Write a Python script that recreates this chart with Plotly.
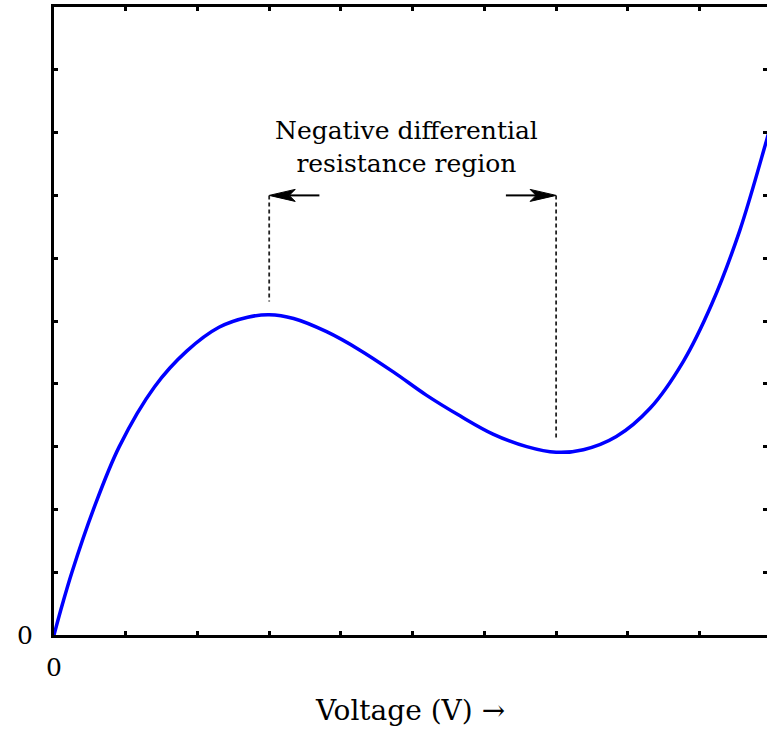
import plotly.graph_objects as go

# I-V characteristic of a tunnel diode (N-shaped curve)
voltage = [0.0, 0.12, 0.25, 0.55, 0.91, 1.40, 1.85, 2.30, 2.70, 3.0,
           3.34, 3.80, 4.26, 4.73, 5.19, 5.66, 6.12, 6.59, 7.0,
           7.38, 7.84, 8.31, 8.77, 9.17, 9.56, 9.93, 10.0]
current = [0.0, 0.50, 1.00, 2.00, 3.00, 3.95, 4.52, 4.90, 5.06, 5.10,
           5.04, 4.83, 4.54, 4.19, 3.82, 3.49, 3.20, 3.00, 2.91,
           2.95, 3.16, 3.61, 4.35, 5.27, 6.44, 7.86, 8.14]

# Peak and valley voltages bounding the negative-resistance region
peak_v = 3.0
valley_v = 7.0
marker_top = 7.0
peak_marker_bottom = 5.31
valley_marker_bottom = 3.1
arrow_len = 0.7

tick_values = list(range(0, 11))
x_tick_text = ["0"] + [""] * 10
y_tick_text = ["0"] + [""] * 10

X_RANGE = [0, 9.94]
Y_RANGE = [0, 10]
WIDTH, HEIGHT = 767, 731
MARGIN = dict(l=54, r=0, t=7, b=96)

# data units per screen pixel, used to size the arrowheads
x_per_px = (X_RANGE[1] - X_RANGE[0]) / (WIDTH - MARGIN["l"] - MARGIN["r"])
y_per_px = (Y_RANGE[1] - Y_RANGE[0]) / (HEIGHT - MARGIN["t"] - MARGIN["b"])
HEAD_LEN, HEAD_HALF, HEAD_NOTCH = 26, 6, 6

serif = "DejaVu Serif, Liberation Serif, serif"

fig = go.Figure()

fig.add_trace(go.Scatter(
    x=voltage, y=current, mode="lines",
    line=dict(color="#0000ff", width=3.5, shape="spline", smoothing=1.0),
    hoverinfo="skip", showlegend=False,
))

# Dashed markers at peak and valley; drawn against the right-hand axis,
# which shares the left axis' scale, so that its ticks are rendered
for v, bottom in [(peak_v, peak_marker_bottom), (valley_v, valley_marker_bottom)]:
    fig.add_trace(go.Scatter(
        x=[v, v], y=[marker_top, bottom], mode="lines", yaxis="y2",
        line=dict(color="#222222", width=1.8, dash="4px,3px"),
        hoverinfo="skip", showlegend=False,
    ))

# Arrows pointing outward to the peak and valley markers
for head, direction in [(peak_v, 1), (valley_v, -1)]:
    tail = head + direction * arrow_len
    dx = direction * x_per_px
    fig.add_trace(go.Scatter(
        x=[head + dx * (HEAD_LEN - HEAD_NOTCH), tail],
        y=[marker_top, marker_top], mode="lines",
        line=dict(color="black", width=2),
        hoverinfo="skip", showlegend=False,
    ))
    fig.add_trace(go.Scatter(
        x=[head, head + dx * HEAD_LEN, head + dx * (HEAD_LEN - HEAD_NOTCH),
           head + dx * HEAD_LEN, head],
        y=[marker_top, marker_top + HEAD_HALF * y_per_px, marker_top,
           marker_top - HEAD_HALF * y_per_px, marker_top],
        mode="lines", fill="toself", fillcolor="black",
        line=dict(color="black", width=1),
        hoverinfo="skip", showlegend=False,
    ))

fig.add_annotation(
    x=(peak_v + valley_v) / 2 - 0.08, y=7.77, xref="x", yref="y",
    text="Negative differential<br>resistance region",
    showarrow=False, font=dict(family=serif, size=25, color="black"),
    align="center",
)

tick_style = dict(ticks="inside", ticklen=4, tickwidth=3, tickcolor="black",
                  showgrid=False, zeroline=False)

fig.update_layout(
    width=WIDTH, height=HEIGHT, margin=MARGIN,
    plot_bgcolor="white", paper_bgcolor="white",
    font=dict(family=serif, size=25, color="black"),
    xaxis=dict(
        range=X_RANGE, tickvals=tick_values, ticktext=x_tick_text,
        showline=True, linewidth=3, linecolor="black", mirror="ticks",
        ticklabelstandoff=8,
        title=dict(text="Voltage (V) →", standoff=20,
                   font=dict(family=serif, size=28, color="black")),
        tickfont=dict(family=serif, size=25, color="black"),
        **tick_style,
    ),
    yaxis=dict(
        range=Y_RANGE, tickvals=tick_values, ticktext=y_tick_text,
        showline=True, linewidth=3, linecolor="black", mirror=False,
        ticklabelstandoff=13,
        tickfont=dict(family=serif, size=25, color="black"),
        **tick_style,
    ),
    # right-hand ticks only (the frame's right edge lies past the page)
    yaxis2=dict(
        range=Y_RANGE, matches="y", tickvals=tick_values,
        overlaying="y", side="right",
        showline=False, showticklabels=False, **tick_style,
    ),
)

fig.write_html("out.html")
